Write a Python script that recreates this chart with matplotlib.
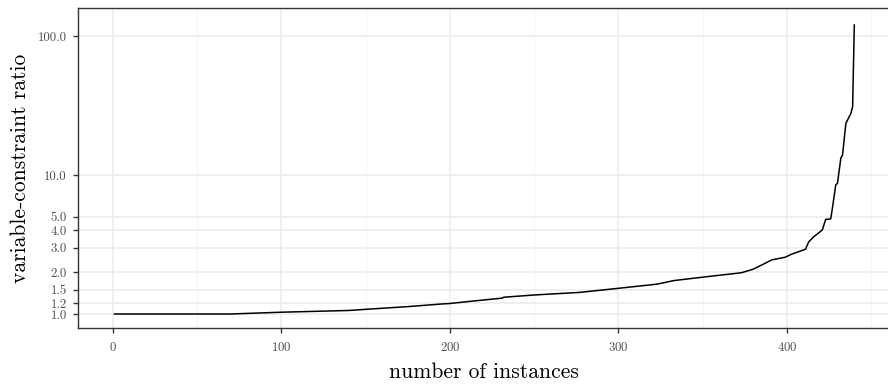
import matplotlib
matplotlib.use("Agg")
import matplotlib.pyplot as plt
from matplotlib.ticker import FixedLocator, FixedFormatter, NullFormatter

plt.rcParams['font.family'] = ['cmr10', 'DejaVu Serif']
plt.rcParams['axes.formatter.use_mathtext'] = True

# data (instance index sorted by ratio)
instances = [1, 70, 100, 140, 150, 175, 195, 200, 214, 231, 232, 250, 277, 300, 323,
             333, 350, 373, 380, 385, 391, 399, 403, 411, 413, 416, 421, 423, 426,
             427, 429, 430, 432, 433, 435, 438, 439, 440]
ratios = [1.0, 1.0, 1.03, 1.06, 1.08, 1.13, 1.18, 1.19, 1.24, 1.30, 1.32, 1.37, 1.43,
          1.53, 1.64, 1.74, 1.84, 1.98, 2.10, 2.25, 2.45, 2.56, 2.70, 2.92, 3.31,
          3.60, 4.02, 4.79, 4.83, 5.76, 8.5, 8.7, 13.2, 13.9, 23.5, 27.8, 31.0, 120.0]

y_ticks = [1.0, 1.2, 1.5, 2.0, 3.0, 4.0, 5.0, 10.0, 100.0]
y_tick_labels = ["1.0", "1.2", "1.5", "2.0", "3.0", "4.0", "5.0", "10.0", "100.0"]
x_ticks = [0, 100, 200, 300, 400]
x_minor = [50, 150, 250, 350, 450]

fig = plt.figure(figsize=(8.88, 3.85), dpi=100)
ax = fig.add_axes([77.5 / 888, 1 - 327.7 / 385, (891.3 - 77.5) / 888, (327.7 - 8.3) / 385])

ax.plot(instances, ratios, color="black", lw=1.1, solid_joinstyle="round", zorder=3)

ax.set_yscale("log")
ax.set_xlim(-20.95, 461.95)
ax.set_ylim(10 ** -0.0986, 10 ** 2.199)

ax.yaxis.set_major_locator(FixedLocator(y_ticks))
ax.yaxis.set_major_formatter(FixedFormatter(y_tick_labels))
ax.yaxis.set_minor_locator(FixedLocator([]))
ax.yaxis.set_minor_formatter(NullFormatter())
ax.xaxis.set_major_locator(FixedLocator(x_ticks))
ax.xaxis.set_minor_locator(FixedLocator(x_minor))

ax.grid(True, which="major", color="#ebebeb", lw=1.1, zorder=0)
ax.grid(True, which="minor", axis="x", color="#f2f2f2", lw=0.6, zorder=0)
ax.set_axisbelow(True)

for s in ax.spines.values():
    s.set_color("#333333")
    s.set_linewidth(1.0)

ax.tick_params(which="major", length=3.6, width=1.0, color="#333333",
               labelsize=9.2, labelcolor="#4d4d4d", pad=4)
ax.tick_params(which="minor", length=0)
ax.tick_params(axis="x", pad=6)

ax.set_xlabel("number of instances", fontsize=15.5, labelpad=6)
ax.set_ylabel("variable-constraint ratio", fontsize=15.5, labelpad=6)

fig.savefig("out.png", dpi=100)
